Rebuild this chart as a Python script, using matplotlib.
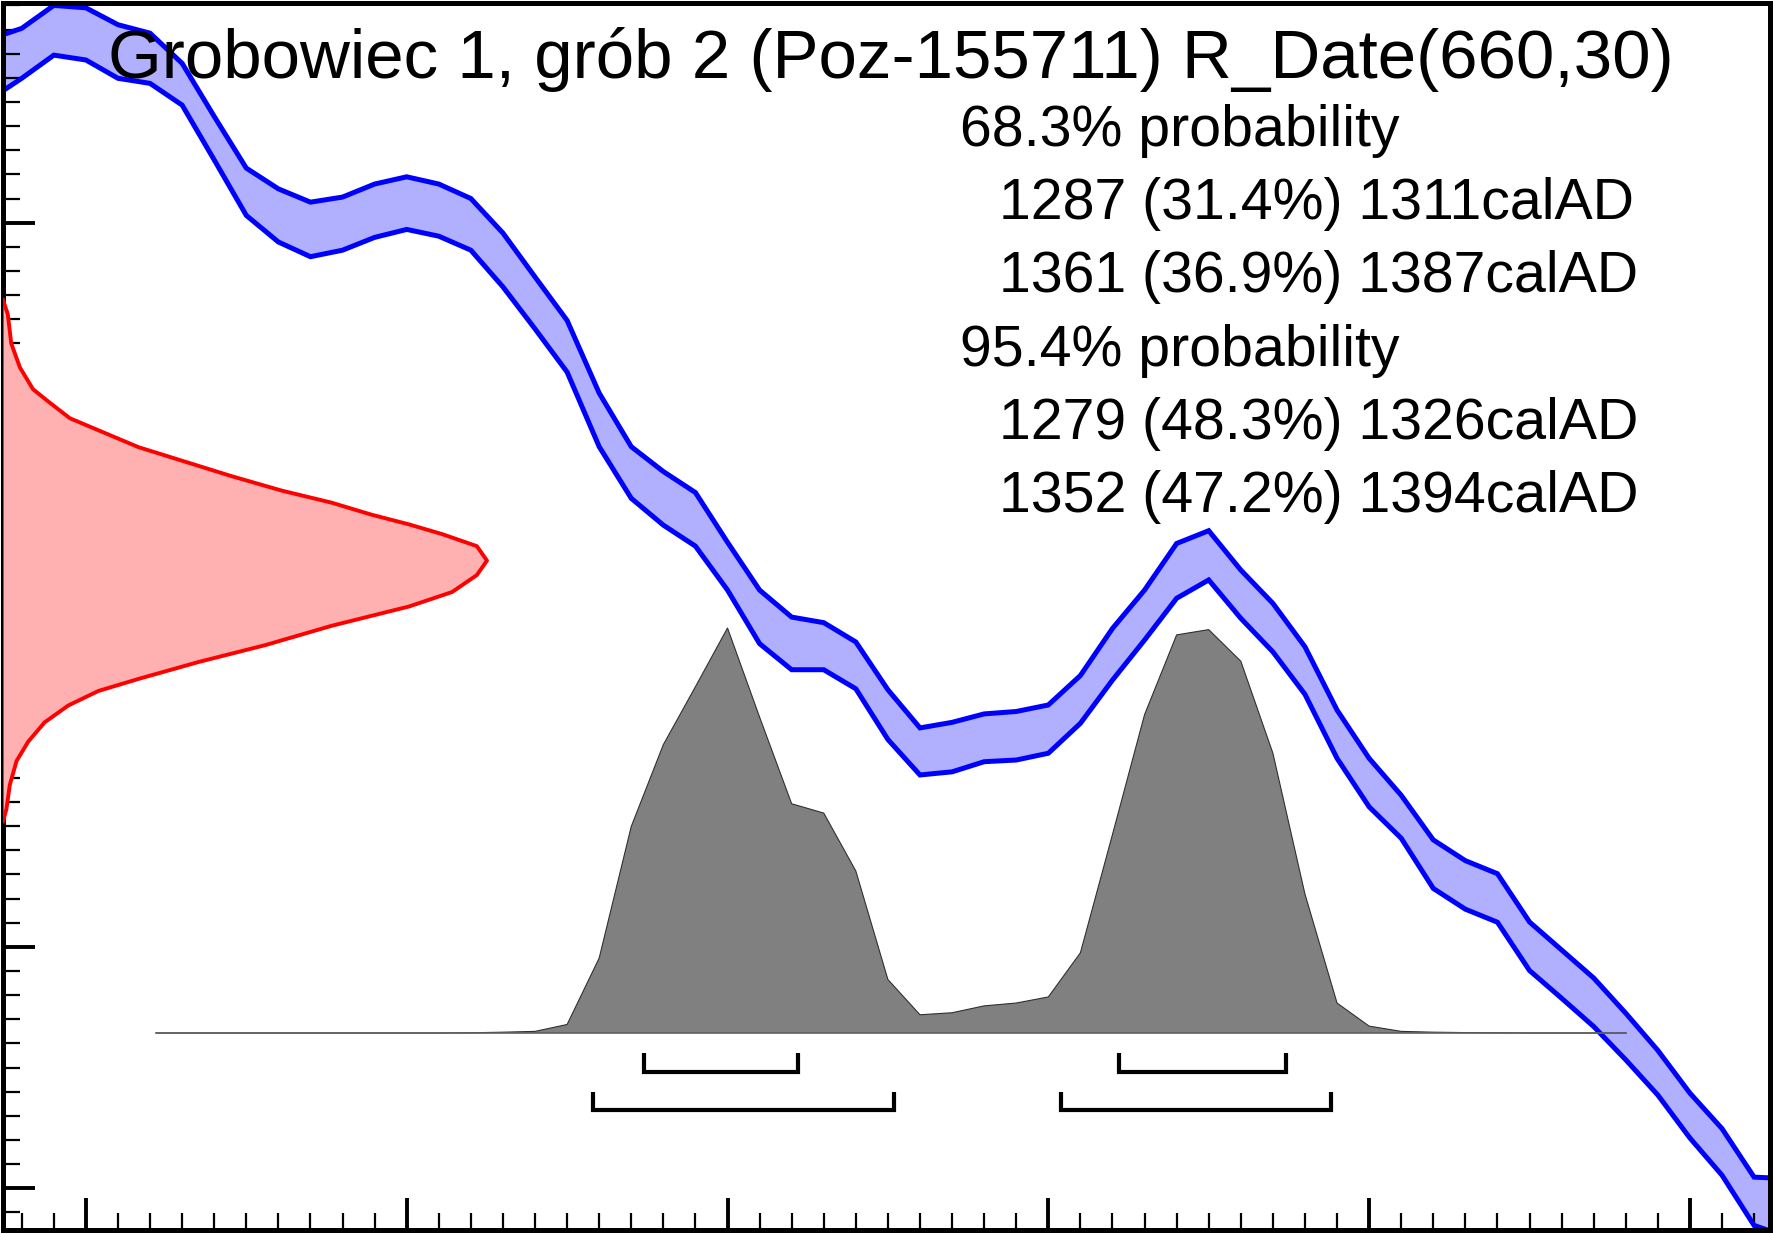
import matplotlib
matplotlib.use("Agg")
import matplotlib.pyplot as plt
from matplotlib.ticker import MultipleLocator, FixedLocator

plt.rcParams['font.family'] = ['Liberation Sans', 'DejaVu Sans']

# ---------------- data ----------------
# Calibration curve (cal AD) : upper / lower 1-sigma envelope in BP
cal_years = [1185, 1190, 1195, 1200, 1205, 1210, 1215, 1220, 1225, 1230,
             1235, 1240, 1245, 1250, 1255, 1260, 1265, 1270, 1275, 1280,
             1285, 1290, 1295, 1300, 1305, 1310, 1315, 1320, 1325, 1330,
             1335, 1340, 1345, 1350, 1355, 1360, 1365, 1370, 1375, 1380,
             1385, 1390, 1395, 1400, 1405, 1410, 1415, 1420, 1425, 1430,
             1435, 1440, 1445, 1450, 1455, 1460, 1465]
curve_upper = [876, 880.5, 890, 889, 882, 878.5, 866, 844, 822.6, 814,
               808.5, 810.6, 816, 819, 816, 810, 795.7, 777.5, 759.5, 729.4,
               707.2, 696.9, 688.2, 667.6, 647.8, 636.6, 634.3, 626.3, 606.5, 590.7,
               593, 596.5, 597.5, 600.2, 612.4, 631.9, 647.8, 667.1, 672.4, 656.1,
               642.3, 624.3, 598.1, 578.1, 562.8, 544.3, 535.7, 530.3, 510.3, 498.7,
               487.1, 472.5, 457.1, 439.4, 424.7, 404.6, 404]
curve_lower = [851, 859.8, 869.4, 867.4, 859.8, 857.7, 848.7, 826, 803, 792,
               785.9, 788.6, 793.9, 797.2, 794.4, 788.6, 773.4, 756, 738.1, 707.2,
               685.8, 674.7, 666, 647.8, 625.6, 614.8, 614.8, 606.9, 585.9, 571.2,
               572.5, 576.7, 577.4, 580.2, 592.6, 610.5, 627.1, 644.4, 652, 636.1,
               622.2, 604.6, 578.1, 558, 545, 524.2, 515.6, 510.2, 490.2, 478.7,
               467, 453.2, 438.6, 420.8, 405.4, 384.6, 380]

# Radiocarbon determination R_Date(660,30): BP vs relative density
rdate_bp = [768, 762, 750, 740, 731, 726, 719, 714, 707, 701, 695, 689, 684,
            679, 675, 671, 666, 660, 654, 647, 641, 633, 625, 618, 611, 606,
            600, 593, 585, 577, 567, 557, 552]
rdate_density = [0, 0.010, 0.017, 0.035, 0.062, 0.093, 0.138, 0.197, 0.280,
                 0.376, 0.472, 0.576, 0.679, 0.762, 0.839, 0.907, 0.979, 1.0,
                 0.979, 0.928, 0.839, 0.679, 0.542, 0.404, 0.280, 0.197,
                 0.135, 0.086, 0.052, 0.028, 0.014, 0.007, 0]

# Calibrated date: cal AD vs relative probability
post_years = [1211, 1215, 1220, 1225, 1230, 1235, 1240, 1245, 1250, 1255,
              1260, 1265, 1270, 1275, 1280, 1285, 1290, 1295, 1300, 1305,
              1310, 1315, 1320, 1325, 1330, 1335, 1340, 1345, 1350, 1355,
              1360, 1365, 1370, 1375, 1380, 1385, 1390, 1395, 1400, 1405,
              1410, 1415, 1420, 1425, 1430, 1435, 1440]
post_prob = [0, 0, 0, 0, 0, 0, 0, 0, 0, 0,
             0.0005, 0.002, 0.004, 0.021, 0.185, 0.51, 0.712, 0.855, 1.0, 0.78,
             0.566, 0.543, 0.40, 0.132, 0.045, 0.050, 0.067, 0.074, 0.089, 0.198,
             0.49, 0.786, 0.983, 0.996, 0.918, 0.691, 0.343, 0.074, 0.017, 0.004,
             0.002, 0.001, 0.0005, 0, 0, 0, 0]

range68 = [(1287, 1311), (1361, 1387)]
range95 = [(1279, 1326), (1352, 1394)]

title = "Grobowiec 1, grób 2 (Poz-155711) R_Date(660,30)"
summary = [("68.3% probability", False),
           ("1287 (31.4%) 1311calAD", True),
           ("1361 (36.9%) 1387calAD", True),
           ("95.4% probability", False),
           ("1279 (48.3%) 1326calAD", True),
           ("1352 (47.2%) 1394calAD", True)]

x_major = [1200, 1250, 1300, 1350, 1400, 1450]
y_major = [400, 500, 600, 700, 800]

# ---------------- figure ----------------
W, H = 1774, 1234
fig = plt.figure(figsize=(W / 100, H / 100), dpi=100)
L, R, T, B = 3, 1770, 3, 1230
ax = fig.add_axes([L / W, (H - B) / H, (R - L) / W, (B - T) / H])
ax.set_xlim(1187.08, 1462.48)
ax.set_ylim(382.7, 891.0)

# calibration curve
ax.fill_between(cal_years, curve_lower, curve_upper, color='#B0B0FF', lw=0, zorder=1)
ax.plot(cal_years, curve_upper, color='#0000FF', lw=3.6, zorder=2, solid_joinstyle='miter')
ax.plot(cal_years, curve_lower, color='#0000FF', lw=3.6, zorder=2, solid_joinstyle='miter')

# ranges brackets
trans = ax.get_xaxis_transform()
for (a, b) in range68:
    ax.plot([a, a, b, b], [0.1443, 0.1288, 0.1288, 0.1443], transform=trans,
            color='black', lw=3.0, solid_joinstyle='miter', solid_capstyle='butt', zorder=3)
for (a, b) in range95:
    ax.plot([a, a, b, b], [0.1121, 0.0974, 0.0974, 0.1121], transform=trans,
            color='black', lw=3.0, solid_joinstyle='miter', solid_capstyle='butt', zorder=3)

# ticks
ax.xaxis.set_major_locator(FixedLocator(x_major))
ax.xaxis.set_minor_locator(MultipleLocator(5))
ax.yaxis.set_major_locator(FixedLocator(y_major))
ax.yaxis.set_minor_locator(MultipleLocator(10))
ax.tick_params(which='major', direction='in', length=23, width=2.8, color='black',
               labelbottom=False, labelleft=False, top=False, right=False)
ax.tick_params(which='minor', direction='in', length=12, width=1.6, color='black',
               top=False, right=False)
for s in ax.spines.values():
    s.set_linewidth(3.6)
    s.set_color('black')
    s.set_zorder(10)

# red R_Date likelihood (twin x-scale)
ax_r = ax.twiny()
ax_r.set_xlim(0, 1 / 0.2739)
ax_r.fill_betweenx(rdate_bp, 0, rdate_density, color='#FFB0B0', lw=0, zorder=1)
ax_r.plot(rdate_density, rdate_bp, color='#FF0000', lw=2.8, zorder=2)
ax_r.set_xticks([])
for s in ax_r.spines.values():
    s.set_visible(False)

# posterior (twin y-scale)
ax_g = ax.twinx()
frac0 = (B - 1033) / (B - T)
frac1 = (B - 628) / (B - T)
span = frac1 - frac0
ax_g.set_ylim(-frac0 / span, (1 - frac0) / span)
ax_g.fill_between(post_years, 0, post_prob, facecolor='#808080', edgecolor='none', zorder=1)
ax_g.plot(post_years, post_prob, color='#303030', lw=0.8, zorder=2)
ax_g.plot([post_years[0], post_years[-1]], [0, 0], color='#606060', lw=1.2, zorder=2)
ax_g.set_yticks([])
for s in ax_g.spines.values():
    s.set_visible(False)

# texts
fig.text(891 / W, 1 - 78 / H, title, ha='center', va='baseline', fontsize=49.8, color='black')
base_x = 960
ind_x = 999
baselines = [146, 219, 292, 366, 439, 512]
for (txt, indent), by in zip(summary, baselines):
    fig.text((ind_x if indent else base_x) / W, 1 - by / H, txt, ha='left', va='baseline',
             fontsize=41.2, color='black')

fig.savefig('out.png', dpi=100)
